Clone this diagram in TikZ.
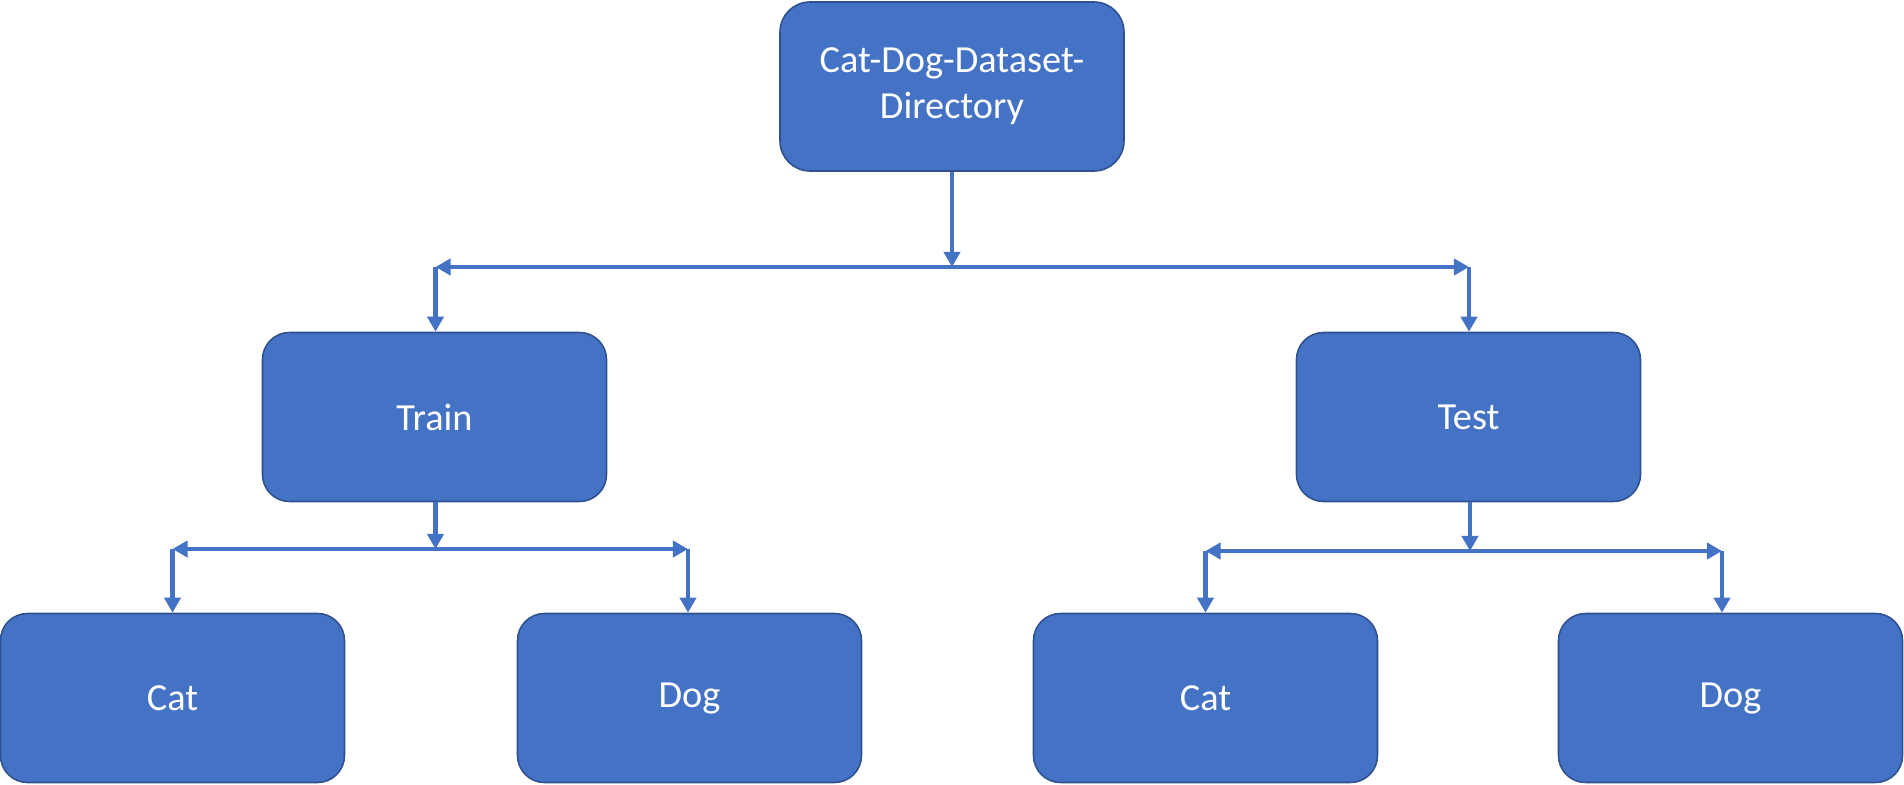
\documentclass[tikz,border=0pt]{standalone}
\usepackage{fontspec}
\setmainfont{Carlito}
\usetikzlibrary{arrows.meta}
\definecolor{boxblue}{HTML}{4472C4}
\definecolor{boxedge}{HTML}{2F528F}
\tikzset{
  dirbox/.style={draw=boxedge, line width=0.45pt, fill=boxblue, rounded corners=0.27cm,
    minimum width=3.44cm, minimum height=1.69cm, inner sep=0pt, text=white, align=center,
    font=\fontsize{10.9}{13.1}\selectfont},
  conn/.style={draw=boxblue, line width=1.4pt, -{Triangle[length=4.3pt,width=4.6pt]}},
}
\begin{document}
\begin{tikzpicture}
\useasboundingbox (0,0) rectangle (19.04,-7.85);
\node[dirbox, rounded corners=0.3cm] (top) at (9.52,-0.865) {Cat-Dog-Dataset-\\Directory};
\node[dirbox] (train) at (4.345,-4.17) {Train};
\node[dirbox] (test) at (14.685,-4.17) {Test};
\node[dirbox] (cat1) at (1.725,-6.98) {Cat};
\node[dirbox] (dog1) at (6.895,-6.98) {Dog};
\node[dirbox] (cat2) at (12.055,-6.98) {Cat};
\node[dirbox] (dog2) at (17.305,-6.98) {Dog};
\coordinate (j0) at (9.52,-2.67);
\coordinate (j1) at (4.355,-5.49);
\coordinate (j2) at (14.70,-5.51);
\coordinate (tl) at (4.355,-2.67);
\coordinate (tr) at (14.69,-2.67);
\coordinate (c1) at (1.725,-5.49);
\coordinate (d1) at (6.88,-5.49);
\coordinate (c2) at (12.055,-5.51);
\coordinate (d2) at (17.22,-5.51);
% top level
\draw[conn] (top.south -| j0) -- (j0);
\draw[conn] (j0) -- (tl);
\draw[conn] (j0) -- (tr);
\draw[conn] (tl) -- (tl |- train.north);
\draw[conn] (tr) -- (tr |- test.north);
% train
\draw[conn] (train.south -| j1) -- (j1);
\draw[conn] (j1) -- (c1);
\draw[conn] (j1) -- (d1);
\draw[conn] (c1) -- (c1 |- cat1.north);
\draw[conn] (d1) -- (d1 |- dog1.north);
% test
\draw[conn] (test.south -| j2) -- (j2);
\draw[conn] (j2) -- (c2);
\draw[conn] (j2) -- (d2);
\draw[conn] (c2) -- (c2 |- cat2.north);
\draw[conn] (d2) -- (d2 |- dog2.north);
\end{tikzpicture}
\end{document}
